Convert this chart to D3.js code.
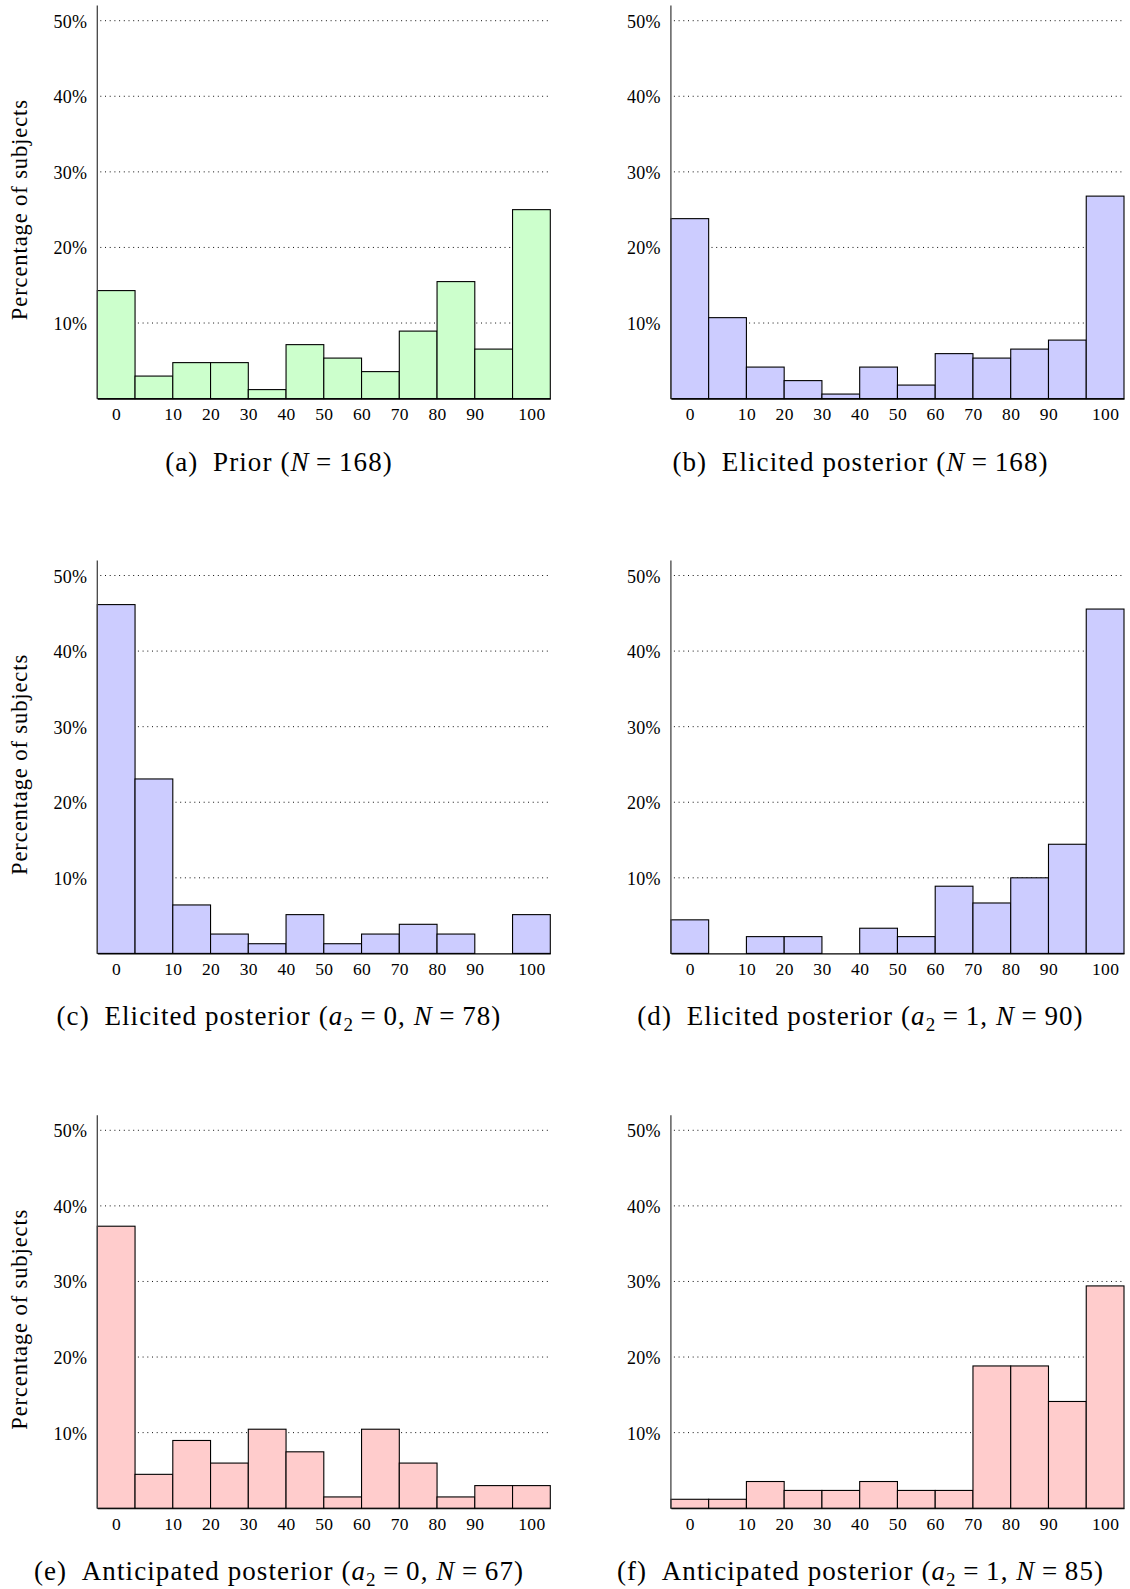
<!DOCTYPE html>
<html>
<head>
<meta charset="utf-8">
<script src="https://cdn.jsdelivr.net/npm/d3@7"></script>
<style>
  html, body { margin: 0; padding: 0; background: #ffffff; }
  svg { display: block; }
  text { font-family: "Liberation Serif", "Times New Roman", serif; fill: #000; }
</style>
</head>
<body>
<svg id="chart" width="1130" height="1589"></svg>
<script>
// ---------- data ----------
const tickLabels = ["0", "10", "20", "30", "40", "50", "60", "70", "80", "90", "100"];
const tickValues = [-5, 10, 20, 30, 40, 50, 60, 70, 80, 90, 105];
const binEdges = [-10, 0, 10, 20, 30, 40, 50, 60, 70, 80, 90, 100, 110];
const yTicks = [10, 20, 30, 40, 50];
const yTickLabels = ["10%", "20%", "30%", "40%", "50%"];
const yLabel = "Percentage of subjects";

// percentage of subjects per bin: 0, (0,10), [10,20), ..., [90,100), 100
const priorVals        = [14.29, 2.98, 4.76, 4.76, 1.19, 7.14, 5.36, 3.57, 8.93, 15.48, 6.55, 25.00];
const elicitedVals     = [23.81, 10.71, 4.17, 2.38, 0.60, 4.17, 1.79, 5.95, 5.36, 6.55, 7.74, 26.79];
const elicitedA0Vals   = [46.15, 23.08, 6.41, 2.56, 1.28, 5.13, 1.28, 2.56, 3.85, 2.56, 0.00, 5.13];
const elicitedA1Vals   = [4.44, 0.00, 2.22, 2.22, 0.00, 3.33, 2.22, 8.89, 6.67, 10.00, 14.44, 45.56];
const anticipA0Vals    = [37.31, 4.48, 8.96, 5.97, 10.45, 7.46, 1.49, 10.45, 5.97, 1.49, 2.99, 2.99];
const anticipA1Vals    = [1.18, 1.18, 3.53, 2.35, 2.35, 3.53, 2.35, 2.35, 18.82, 18.82, 14.12, 29.41];

const panelLetters = ["a", "b", "c", "d", "e", "f"];
const panelTitles = ["Prior", "Elicited posterior", "Elicited posterior", "Elicited posterior", "Anticipated posterior", "Anticipated posterior"];
const panelA2 = [null, null, "0", "1", "0", "1"];
const panelN = ["168", "168", "78", "90", "67", "85"];
const panelValues = [priorVals, elicitedVals, elicitedA0Vals, elicitedA1Vals, anticipA0Vals, anticipA1Vals];
const panelFills = ["#ccffcc", "#ccccff", "#ccccff", "#ccccff", "#ffcccc", "#ffcccc"];

// ---------- layout ----------
const colX = [[97.3, 550.3], [670.9, 1124]];
const rowBase = [398.6, 953.4, 1508.2];
const plotH = 377.9;           // 0% -> 50%
const captionCx = [279, 860.5];

const svg = d3.select("#chart");

panelValues.forEach((vals, i) => {
  const col = i % 2, row = Math.floor(i / 2);
  const [x0, x1] = colX[col];
  const yb = rowBase[row];
  const g = svg.append("g");

  const x = d3.scaleLinear().domain([-10, 110]).range([x0, x1]);
  const y = d3.scaleLinear().domain([0, 50]).range([yb, yb - plotH]);

  // dotted grid lines
  g.selectAll("line.grid").data(yTicks).join("line")
    .attr("x1", x0 + 3).attr("x2", x1)
    .attr("y1", d => y(d)).attr("y2", d => y(d))
    .attr("stroke", "#111").attr("stroke-width", 1)
    .attr("stroke-dasharray", "1,3.7");

  // y tick labels
  g.selectAll("text.ytick").data(yTicks).join("text")
    .attr("x", x0 - 10).attr("y", d => y(d) + 7)
    .attr("text-anchor", "end")
    .style("font-size", "18px")
    .style("letter-spacing", "0.3px")
    .text((d, k) => yTickLabels[k]);

  // bars
  const bins = vals.map((v, k) => ({ v, a: binEdges[k], b: binEdges[k + 1] }));
  g.selectAll("rect.bar").data(bins.filter(d => d.v > 0)).join("rect")
    .attr("x", d => x(d.a)).attr("width", d => x(d.b) - x(d.a))
    .attr("y", d => y(d.v)).attr("height", d => y(0) - y(d.v))
    .attr("fill", panelFills[i]).attr("stroke", "#000").attr("stroke-width", 1.1);

  // x axis (baseline + tick labels)
  const ax = d3.axisBottom(x).tickValues(tickValues)
    .tickFormat((d, k) => tickLabels[k]).tickSize(0).tickPadding(9);
  const axG = g.append("g").attr("transform", `translate(0,${yb})`).call(ax);
  axG.select(".domain").attr("stroke", "#000").attr("stroke-width", 1.1);
  axG.selectAll("text").style("font-size", "17.5px").style("letter-spacing", "0.4px")
    .style("font-family", "'Liberation Serif', serif").attr("fill", "#000");

  // y axis line
  g.append("line")
    .attr("x1", x0).attr("x2", x0)
    .attr("y1", y(0)).attr("y2", y(52))
    .attr("stroke", "#444").attr("stroke-width", 1.3);

  // y label on left column
  if (col === 0) {
    g.append("text")
      .attr("transform", `translate(27,${y(25)}) rotate(-90)`)
      .attr("text-anchor", "middle")
      .style("font-size", "22.5px")
      .style("letter-spacing", "0.9px")
      .text(yLabel);
  }

  // caption
  const cap = g.append("text")
    .attr("x", captionCx[col]).attr("y", yb + 72)
    .attr("text-anchor", "middle")
    .style("font-size", "27px")
    .style("letter-spacing", "1.1px");
  cap.append("tspan").text(`(${panelLetters[i]})\u2002${panelTitles[i]} (`);
  if (panelA2[i] !== null) {
    cap.append("tspan").style("font-style", "italic").text("a");
    cap.append("tspan").attr("dy", 6).style("font-size", "19px").text("2");
    cap.append("tspan").attr("dy", -6).text(`\u2009=\u2009${panelA2[i]}, `);
  }
  cap.append("tspan").style("font-style", "italic").text("N");
  cap.append("tspan").text(`\u2009=\u2009${panelN[i]})`);
});
</script>
</body>
</html>
